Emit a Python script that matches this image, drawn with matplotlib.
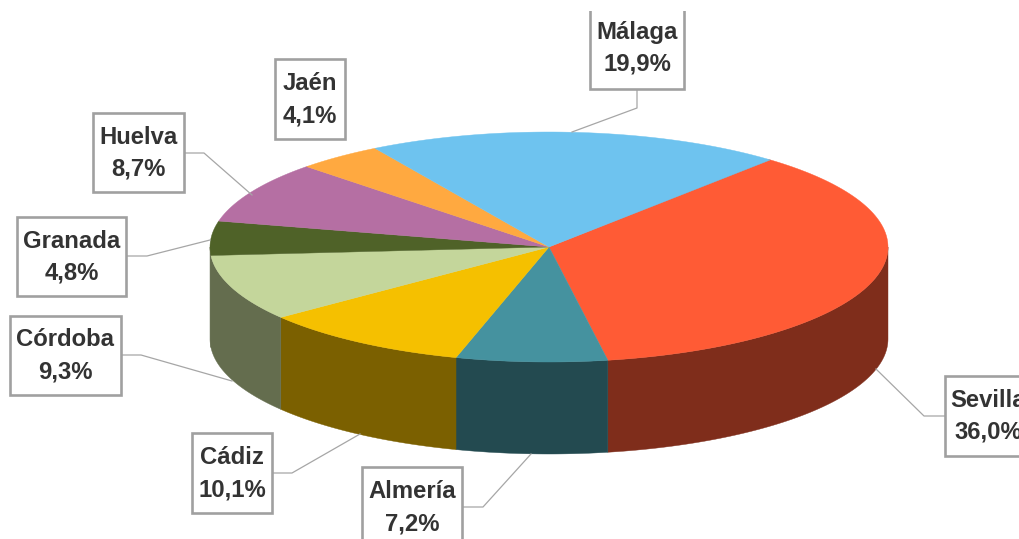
#!/usr/bin/env python3
import numpy as np
import matplotlib
matplotlib.use('Agg')
from matplotlib import pyplot as plt
from matplotlib.patches import Polygon, Rectangle

provincias = ['Sevilla', 'Almería', 'Cádiz', 'Córdoba', 'Granada', 'Huelva', 'Jaén', 'Málaga']
valores = [36.0, 7.2, 10.1, 9.3, 4.8, 8.7, 4.1, 19.9]
etiquetas = ['36,0%', '7,2%', '10,1%', '9,3%', '4,8%', '8,7%', '4,1%', '19,9%']
colores = ['#FF5B35', '#45929F', '#F5C000', '#C4D69B', '#4F6228', '#B56FA3', '#FFA940', '#6EC3EF']
# Granada apenas asoma por la izquierda, en el original la pared sigue el color de Cordoba
laterales = ['#7F2D1B', '#234A50', '#7B6000', '#646D4E', '#646D4E', '#5B3852', '#805520', '#376278']

# caja de cada etiqueta: x0, x1, y0, y1 en pixeles
cajas = [(945, 1031, 376, 456), (362, 462, 467, 547), (192, 272, 433, 513), (10, 121, 316, 395),
         (17, 126, 217, 296), (93, 184, 113, 192), (275, 345, 59, 139), (590, 684, 6, 89)]
lineas = [[(945, 416), (924, 416), (876, 369)], [(462, 507), (483, 507), (531, 454)],
          [(272, 473), (292, 473), (360, 434)], [(121, 355), (141, 355), (232, 381)],
          [(126, 256), (147, 256), (210, 240)], [(184, 153), (204, 153), (252, 195)],
          [], [(637, 89), (637, 108), (572, 132)]]

cx, cy, rx, ry, alto = 549, 247, 339, 115, 92
inicio = 49.6


def elipse(t, dy=0):
    t = np.radians(t)
    return np.column_stack([cx + rx*np.cos(t), cy + dy - ry*np.sin(t)])


fig = plt.figure(figsize=(10.2, 5.39), dpi=100)
ax = fig.add_axes([0, 0, 1, 1])
ax.set_xlim(0, 1020)
ax.set_ylim(539, 0)
ax.axis('off')

# paredes y sectores, en sentido horario desde Sevilla
ang = inicio
for v, c, l in zip(valores, colores, laterales):
    fin = ang - v*3.6
    # la pared solo se ve en la mitad de abajo (180 a 360)
    for k in (0, 360, -360):
        a = min(ang, 360 + k)
        b = max(fin, 180 + k)
        if a > b:
            t = np.linspace(a, b, 80) - k
            pts = np.vstack([elipse(t), elipse(t[::-1], alto)])
            ax.add_patch(Polygon(pts, closed=True, fc=l, ec=l, lw=0.3, zorder=2))
    t = np.linspace(ang, fin, 120)
    pts = np.vstack([[(cx, cy)], elipse(t)])
    ax.add_patch(Polygon(pts, closed=True, fc=c, ec=c, lw=0.3, zorder=3))
    ang = fin

for nom, et, caja, lin in zip(provincias, etiquetas, cajas, lineas):
    x0, x1, y0, y1 = caja
    if lin:
        ax.plot([p[0] for p in lin], [p[1] for p in lin], color='#A6A6A6', lw=0.9, zorder=4)
    ax.add_patch(Rectangle((x0, y0), x1-x0, y1-y0, fc='white', ec='#A0A0A0', lw=1.9, zorder=5))
    ax.text((x0+x1)/2, (y0+y1)/2 + 0.5, nom + '\n' + et, ha='center', va='center', zorder=6,
            family='Liberation Sans', weight='bold', fontsize=17.2, color='#333333', linespacing=1.5)

# la imagen original corta la caja de arriba
ax.add_patch(Rectangle((0, 0), 1020, 11, fc='white', ec='none', zorder=7))

plt.savefig('out.png', dpi=100)
plt.close()
